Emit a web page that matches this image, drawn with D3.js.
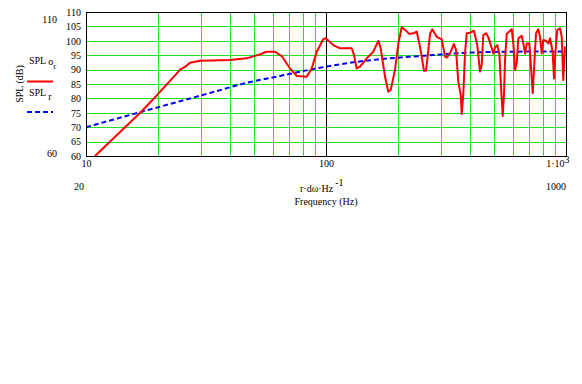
<!DOCTYPE html>
<html>
<head>
<meta charset="UTF-8">
<title>SPL vs frequency</title>
<script src="https://d3js.org/d3.v7.min.js"></script>
<style>
  body { margin: 0; background: #fff; }
  svg text { font-family: "Liberation Serif", "Times New Roman", serif; font-size: 10px; fill: #000; }
  .grid line { stroke: #22dd22; stroke-width: 1; }
  .axis path { display: none; }
  .axis line { display: none; }
</style>
</head>
<body>
<script>
// measured response SPL_o_r (frequency Hz, dB)
var redFreq = [10.9, 16.95, 19.8, 23.9, 24.6, 26.3, 27.1, 29.9, 39.8, 46.7, 53.1, 56.6, 61.3, 65.4, 70.8, 75.5,
  83.1, 87.2, 91.5, 97.5, 99.7, 107.3, 114.4, 128.0, 130.8, 134.2, 138.6, 147.8, 157.4, 165.2, 169.0,
  176.2, 181.8, 186.0, 193.9, 200.2, 206.8, 213.5, 222.4, 231.1, 238.8, 244.8, 250.5, 256.0, 261.0,
  266.9, 271.3, 277.3, 289.3, 303.5, 313.3, 318.4, 328.6, 341.4, 348.1, 355.9, 364.2, 367.7, 373.4,
  379.6, 385.8, 398.1, 413.6, 426.9, 438.2, 445.4, 452.3, 464.2, 474.6, 490.3, 497.9, 506.1, 517.4,
  527.5, 536.1, 545.0, 551.8, 557.1, 566.2, 594.1, 603.3, 613.2, 623.3, 633.0, 653.9, 664.0, 675.0,
  686.1, 703.4, 713.0, 726.9, 738.0, 749.9, 766.7, 779.3, 792.1, 804.3, 825.4, 843.8, 857.7, 871.9,
  880.4, 891.3, 902.6, 920.1, 944.1, 959.7, 974.4, 990.4];
var redSpl = [60, 75.3, 81.2, 88.7, 89.9, 91.4, 92.4, 93.1, 93.3, 93.9, 95.3, 96.2, 96.2, 94.7, 90.4, 87.8,
  87.5, 90.4, 96.2, 100.6, 100.9, 98.5, 97.4, 97.4, 95.1, 90.4, 91.0, 93.9, 96.2, 100.0, 97.4,
  87.5, 82.3, 82.9, 89.9, 99.1, 104.7, 103.8, 102.4, 102.6, 103.2, 99.1, 94.5, 89.6, 89.6,
  96.8, 102.4, 104.0, 101.4, 100.5, 94.5, 94.2, 95.6, 98.9, 96.8, 85.8, 81.2, 74.6, 81.8,
  95.6, 102.6, 102.8, 103.5, 98.5, 89.3, 91.6, 102.0, 102.6, 101.2, 97.4, 95.6, 97.7, 98.5,
  95.6, 84.1, 73.9, 81.8, 93.3, 102.4, 104.0, 99.1, 89.9, 92.2, 100.9, 101.7, 99.1, 95.6,
  99.1, 99.1, 92.2, 81.8, 92.2, 102.6, 104.0, 101.4, 95.6, 100.3, 100.0, 99.1, 100.9, 98.0,
  95.6, 86.9, 95.6, 103.8, 104.3, 101.4, 86.4, 98.0];

// model response SPL_r
var blueFreq = [10, 16.95, 24.6, 33.9, 46.7, 64.3, 88.5, 122.0, 167.9, 246.5, 398.1, 548, 1000];
var blueSpl = [70.0, 75.3, 79.0, 82.2, 85.4, 87.8, 90.2, 92.2, 93.6, 94.7, 95.9, 96.2, 96.3];

var yTicks = [60, 65, 70, 75, 80, 85, 90, 95, 100, 105, 110];
var xGrid = [20, 30, 40, 50, 60, 70, 80, 90, 200, 300, 400, 500, 600, 700, 800, 900];
var xTicks = [10, 100, 1000];

var width = 582, height = 384;
var pLeft = 86, pRight = 566, pTop = 12, pBottom = 156;

var svg = d3.select("body").append("svg")
  .attr("width", width)
  .attr("height", height);

var x = d3.scaleLog().domain([10, 1000]).range([pLeft, pRight]);
var y = d3.scaleLinear().domain([60, 110]).range([pBottom, pTop]);

// grid
var grid = svg.append("g").attr("class", "grid");
grid.selectAll(".h").data(yTicks.slice(1, -1)).enter().append("line")
  .attr("x1", pLeft).attr("x2", pRight)
  .attr("y1", function (d) { return Math.round(y(d)) + 0.5; })
  .attr("y2", function (d) { return Math.round(y(d)) + 0.5; });
grid.selectAll(".v").data(xGrid).enter().append("line")
  .attr("x1", function (d) { return Math.round(x(d)) + 0.5; })
  .attr("x2", function (d) { return Math.round(x(d)) + 0.5; })
  .attr("y1", pTop).attr("y2", pBottom);

// black line at 100 Hz
svg.append("line")
  .attr("x1", Math.round(x(100)) + 0.5).attr("x2", Math.round(x(100)) + 0.5)
  .attr("y1", pTop).attr("y2", pBottom)
  .attr("stroke", "#000");

svg.append("clipPath").attr("id", "plot")
  .append("rect").attr("x", pLeft).attr("y", pTop)
  .attr("width", pRight - pLeft).attr("height", pBottom - pTop);

var line = d3.line()
  .x(function (d) { return x(d[0]); })
  .y(function (d) { return y(d[1]); });

svg.append("path")
  .datum(d3.zip(blueFreq, blueSpl))
  .attr("clip-path", "url(#plot)")
  .attr("fill", "none")
  .attr("stroke", "#0000ff")
  .attr("stroke-width", 2)
  .attr("stroke-dasharray", "5,3")
  .attr("d", line.curve(d3.curveMonotoneX));

svg.append("path")
  .datum(d3.zip(redFreq, redSpl))
  .attr("clip-path", "url(#plot)")
  .attr("fill", "none")
  .attr("stroke", "#ff0000")
  .attr("stroke-width", 2)
  .attr("stroke-linejoin", "round")
  .attr("d", line.curve(d3.curveLinear));

// frame
svg.append("rect")
  .attr("x", pLeft + 0.5).attr("y", pTop + 0.5)
  .attr("width", pRight - pLeft).attr("height", pBottom - pTop)
  .attr("fill", "none").attr("stroke", "#000");

// axes
svg.append("g").attr("class", "axis")
  .attr("transform", "translate(" + pLeft + ",0)")
  .call(d3.axisLeft(y).tickValues(yTicks).tickSize(0).tickPadding(5))
  .selectAll("text").style("font-size", "10px").style("font-family", null);

var xa = svg.append("g").attr("class", "axis")
  .attr("transform", "translate(0," + pBottom + ")")
  .call(d3.axisBottom(x).tickValues(xTicks).tickSize(0).tickPadding(4)
    .tickFormat(function (d) { return d === 1000 ? "1\u00b710" : String(d); }));
xa.selectAll("text").style("font-size", "10px").style("font-family", null);
xa.selectAll(".tick").filter(function (d) { return d === 1000; }).select("text")
  .attr("text-anchor", "end").attr("dx", "3")
  .append("tspan").attr("dy", "-4").text("3");

// extra limit labels
svg.append("text").attr("x", 57).attr("y", 23).attr("text-anchor", "end").text("110");
svg.append("text").attr("x", 57).attr("y", 157).attr("text-anchor", "end").text("60");
svg.append("text").attr("x", 84).attr("y", 190).attr("text-anchor", "end").text("20");
svg.append("text").attr("x", 566).attr("y", 190).attr("text-anchor", "end").text("1000");

// y label + legend
svg.append("text").attr("transform", "translate(23,84) rotate(-90)")
  .attr("text-anchor", "middle").text("SPL (dB)");

var l1 = svg.append("text").attr("x", 29).attr("y", 64);
l1.append("tspan").text("SPL");
l1.append("tspan").attr("dx", 2).attr("dy", 1).text("o");
l1.append("tspan").attr("dy", 4).style("font-size", "9px").text("r");
svg.append("line").attr("x1", 27).attr("x2", 53).attr("y1", 81.5).attr("y2", 81.5)
  .attr("stroke", "#ff0000").attr("stroke-width", 2);

var l2 = svg.append("text").attr("x", 29).attr("y", 96);
l2.append("tspan").text("SPL");
l2.append("tspan").attr("dx", 2).attr("dy", 4).text("r");
svg.append("line").attr("x1", 27).attr("x2", 53).attr("y1", 112).attr("y2", 112)
  .attr("stroke", "#0000ff").attr("stroke-width", 2).attr("stroke-dasharray", "5,3");

// x label
var xl = svg.append("text").attr("x", 300).attr("y", 192);
xl.append("tspan").text("r\u00b7d\u03c9\u00b7Hz");
xl.append("tspan").attr("dx", 2).attr("dy", -6).text("-1");
svg.append("text").attr("x", 326).attr("y", 205).attr("text-anchor", "middle").text("Frequency (Hz)");
</script>
</body>
</html>
